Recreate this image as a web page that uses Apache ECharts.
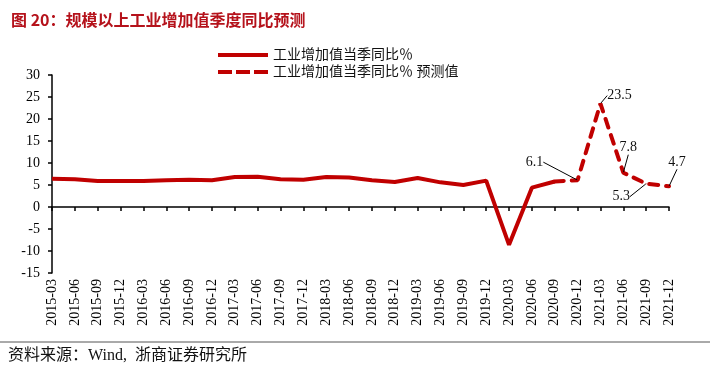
<!DOCTYPE html>
<html>
<head>
<meta charset="utf-8">
<script src="https://cdn.jsdelivr.net/npm/echarts@6/dist/echarts.min.js"></script>
<style>html,body{margin:0;padding:0;background:#fff;}#c{width:710px;height:384px;}</style>
</head>
<body>
<div id="c"></div>
<script>
const categories = ['2015-03','2015-06','2015-09','2015-12','2016-03','2016-06','2016-09','2016-12',
  '2017-03','2017-06','2017-09','2017-12','2018-03','2018-06','2018-09','2018-12',
  '2019-03','2019-06','2019-09','2019-12','2020-03','2020-06','2020-09','2020-12',
  '2021-03','2021-06','2021-09','2021-12'];
const actual = [6.4, 6.3, 5.9, 5.9, 5.9, 6.1, 6.2, 6.1, 6.8, 6.9, 6.3, 6.2, 6.8, 6.7, 6.1, 5.7,
  6.6, 5.6, 5.0, 6.0, -8.6, 4.4, 5.8];
const forecast = [6.1, 23.5, 7.8, 5.3, 4.7];
const yTicks = {min: -15, max: 30, interval: 5};
const labelOffsets = [null, [-43, -18], [19, -8], [5, -25], [-25, 13], [8, -24]];

const actualData = actual.concat(forecast.map(() => null));
const forecastData = actual.map((v, i) => (i === actual.length - 1 ? v : null)).concat(forecast);
const fcStart = actual.length - 1;

const RED = '#C00000';
const serif = '"Liberation Serif", "Times New Roman", serif';
const cjk = '"Liberation Serif", "Noto Sans CJK SC", serif';
const corners = 'M0,0h0.1v0.1h-0.1z M49.9,13.9h0.1v0.1h-0.1z ';
const solidIcon = 'path://' + corners + 'M0,5h50v4h-50z';
const dashIcon = 'path://' + corners + 'M0,5h14v4h-14z M18,5h14v4h-14z M36,5h14v4h-14z';

const chart = echarts.init(document.getElementById('c'), null, {renderer: 'canvas'});
chart.setOption({
  animation: false,
  title: {
    text: '图 20：规模以上工业增加值季度同比预测',
    left: 6, top: 7,
    textStyle: {fontSize: 16, fontWeight: 'bold', color: '#B5121B', fontFamily: '"Noto Sans CJK SC", sans-serif'}
  },
  legend: {
    orient: 'vertical', left: 218, top: 48, padding: 0,
    itemWidth: 50, itemHeight: 14, itemGap: 3,
    textStyle: {fontSize: 14, color: '#111', fontFamily: cjk},
    data: [
      {name: '工业增加值当季同比％', icon: solidIcon},
      {name: '工业增加值当季同比％ 预测值', icon: dashIcon}
    ]
  },
  grid: {left: 52, right: 41, top: 75, bottom: 111, containLabel: false},
  xAxis: [
    {
      type: 'category', data: categories, boundaryGap: false, position: 'bottom',
      axisLine: {show: false, onZero: false}, axisTick: {show: false},
      axisLabel: {rotate: 90, interval: 0, fontSize: 14, color: '#000', fontFamily: serif, margin: 6}
    },
    {
      type: 'category', data: categories, boundaryGap: false, position: 'bottom',
      axisLine: {show: true, onZero: true, lineStyle: {color: '#000', width: 1.5}},
      axisTick: {show: true, inside: false, length: 4, interval: 0, lineStyle: {color: '#000', width: 1.5}},
      axisLabel: {show: false}
    }
  ],
  yAxis: {
    type: 'value', min: yTicks.min, max: yTicks.max, interval: yTicks.interval,
    axisLine: {show: true, lineStyle: {color: '#000', width: 1.5}},
    axisTick: {show: true, length: 4, lineStyle: {color: '#000', width: 1.5}},
    splitLine: {show: false},
    axisLabel: {fontSize: 14, color: '#000', fontFamily: serif, margin: 12}
  },
  series: [
    {
      name: '工业增加值当季同比％', type: 'line', xAxisIndex: 0, data: actualData,
      symbol: 'none', lineStyle: {color: RED, width: 4}, itemStyle: {color: RED}, z: 3
    },
    {
      name: '工业增加值当季同比％ 预测值', type: 'line', xAxisIndex: 0, data: forecastData,
      symbol: 'circle', symbolSize: 1, showAllSymbol: true,
      lineStyle: {color: RED, width: 4, type: [9, 8], cap: 'round'}, itemStyle: {color: RED}, z: 4,
      label: {
        show: true, position: 'inside', fontSize: 14, color: '#111', fontFamily: serif,
        formatter: p => (p.dataIndex > fcStart ? String(p.value) : '')
      },
      labelLine: {show: true, lineStyle: {color: '#000', width: 1}},
      labelLayout: p => {
        const o = labelOffsets[p.dataIndex - fcStart];
        return o ? {dx: o[0], dy: o[1]} : {};
      }
    }
  ],
  graphic: [
    {type: 'line', shape: {x1: 0, y1: 342, x2: 710, y2: 342}, style: {stroke: '#555', lineWidth: 1}},
    {type: 'text', left: 8, top: 348, style: {text: '资料来源：Wind,  浙商证券研究所', fontSize: 16, fill: '#111', fontFamily: cjk}}
  ]
});
</script>
</body>
</html>
